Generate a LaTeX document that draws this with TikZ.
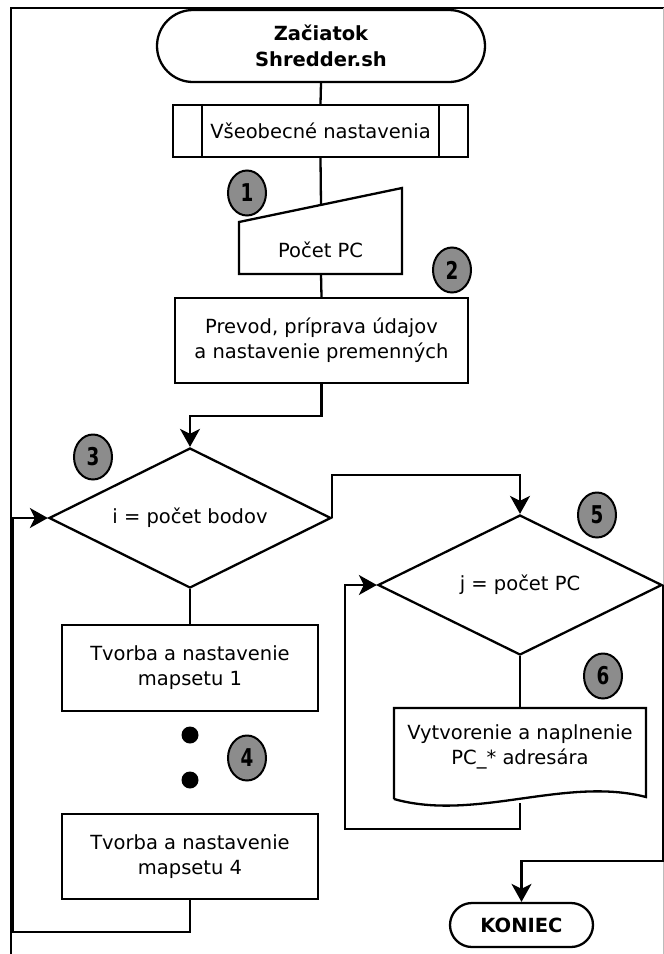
\documentclass[tikz,border=0pt]{standalone}
\usepackage{fontspec}
\setmainfont{DejaVu Sans}
\usetikzlibrary{shapes.geometric,arrows.meta,calc}

\definecolor{badgegray}{HTML}{8C8C8C}
\definecolor{framegray}{HTML}{BBBBBB}

\tikzset{
  base/.style={draw=black, line width=2.3pt, inner sep=0pt, align=center,
               font=\fontsize{19.5}{25}\selectfont, fill=white},
  procbox/.style={base, rectangle},
  termbox/.style={base, rectangle},
  decision/.style={base, diamond, aspect=2},
  plain/.style={inner sep=0pt, align=center, font=\fontsize{19.5}{25}\selectfont},
  conn/.style={line width=2.3pt},
  arrowconn/.style={conn, -{Stealth[length=18pt,width=20pt,inset=5pt]}},
  badge/.style={ellipse, draw=black, line width=2pt, fill=badgegray,
                minimum width=38pt, minimum height=45pt, inner sep=0pt,
                font=\bfseries\fontsize{24.5}{24.5}\selectfont},
  dotmark/.style={circle, fill=black, minimum size=17pt, inner sep=0pt}
}

\begin{document}
\begin{tikzpicture}[x=1pt, y=-1pt]
\useasboundingbox (0,0) rectangle (664,954);

% page frame
\draw[line width=2pt] (11,954) -- (11,8) -- (664,8);
\draw[framegray, line width=1pt] (663.5,8) -- (663.5,954);

% start terminal
\node[termbox, rounded corners=36pt, minimum width=328pt, minimum height=72pt,
      font=\bfseries\fontsize{19.5}{26}\selectfont]
  (start) at (321,46) {Začiatok\\Shredder.sh};

% predefined process
\node[procbox, minimum width=295pt, minimum height=52pt]
  (setup) at (320.5,131) {Všeobecné nastavenia};
\draw[line width=2.3pt] ([xshift=30pt]setup.north west) -- ([xshift=30pt]setup.south west);
\draw[line width=2.3pt] ([xshift=-30pt]setup.north east) -- ([xshift=-30pt]setup.south east);

% manual input
\draw[line width=2.3pt, fill=white] (239,222) -- (402,188) -- (402,274) -- (239,274) -- cycle;
\node[plain] (pcin) at (320.5,250) {Počet PC};
\coordinate (pcintop) at (321,205);
\coordinate (pcinbot) at (321,274);

% preparation
\node[procbox, minimum width=293pt, minimum height=85pt]
  (prep) at (321.5,340.5) {Prevod, príprava údajov\\a nastavenie premenných};

% outer loop decision
\node[decision, minimum width=282pt, minimum height=140pt]
  (loopi) at (190,518) {i = počet bodov};

% mapset boxes
\node[procbox, minimum width=256pt, minimum height=86pt]
  (mapA) at (190,668) {Tvorba a nastavenie\\mapsetu 1};
\node[dotmark] (dotA) at (190,735) {};
\node[dotmark] (dotB) at (190,780) {};
\node[procbox, minimum width=256pt, minimum height=85pt]
  (mapD) at (190,856.5) {Tvorba a nastavenie\\mapsetu 4};

% inner loop decision
\node[decision, minimum width=284pt, minimum height=140pt]
  (loopj) at (520,585) {j = počet PC};

% document shape
\draw[line width=2.3pt, fill=white] (394,799) -- (394,708) -- (646,708) -- (646,797)
  .. controls (565,776) and (475,822) .. (394,799);
\node[plain] (pcdir) at (520,747) {Vytvorenie a naplnenie\\PC\_* adresára};
\coordinate (pcdirtop) at (520,708);
\coordinate (pcdirbot) at (520,803);

% end terminal
\node[termbox, rounded corners=22pt, minimum width=143pt, minimum height=44pt,
      font=\bfseries\fontsize{19.5}{24}\selectfont]
  (stop) at (521.5,925) {KONIEC};

% loop corner points
\coordinate (backA) at (13,932);
\coordinate (backB) at (345,829);

% connectors
\draw[conn] (start.south) -- (setup.north);
\draw[conn] (setup.south) -- (pcintop);
\draw[conn] (pcinbot) -- (prep.north);
\draw[arrowconn] (prep.south) -- ++(0,32) -| (loopi.north);
\draw[conn] (loopi.south) -- (mapA.north);
\draw[arrowconn] (mapD.south) |- (backA) |- (loopi.west);
\draw[arrowconn] (loopi.east) -- ++(0,-43) -| (loopj.north);
\draw[conn] (loopj.south) -- (pcdirtop);
\draw[arrowconn] (pcdirbot) |- (backB) |- (loopj.west);
\draw[arrowconn] (loopj.east) -- ++(0,276) -| (stop.north);

% numbered markers
\node[badge] (b1) at (247,193) {\scalebox{0.75}[1]{1}};
\node[badge] (b2) at (452,270) {\scalebox{0.75}[1]{2}};
\node[badge] (b3) at (93,457) {\scalebox{0.75}[1]{3}};
\node[badge] (b4) at (247,758) {\scalebox{0.75}[1]{4}};
\node[badge] (b5) at (597,515) {\scalebox{0.75}[1]{5}};
\node[badge] (b6) at (603,676) {\scalebox{0.75}[1]{6}};
\end{tikzpicture}
\end{document}
